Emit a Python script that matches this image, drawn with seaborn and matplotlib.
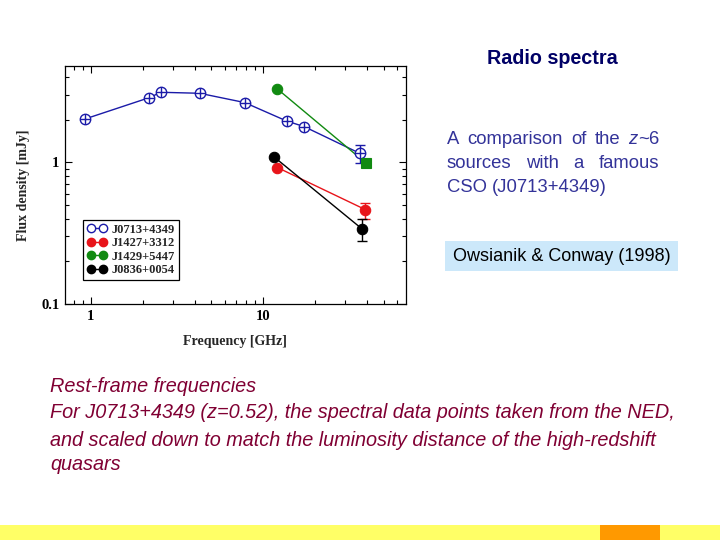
import matplotlib
matplotlib.use("Agg")
import matplotlib.pyplot as plt
import seaborn as sns
import pandas as pd
import numpy as np
from matplotlib.patches import Rectangle
from matplotlib.ticker import LogLocator, NullFormatter, FixedLocator, FixedFormatter

sns.set_theme(style="ticks")
plt.rcParams['font.family'] = ['DejaVu Sans']

# ---- data ----
names = ["J0713+4349", "J1427+3312", "J1429+5447", "J0836+0054"]
colors = ["#1a1aa8", "#e8141a", "#118a11", "#000000"]

freq_0713 = [0.93, 2.19, 2.55, 4.28, 7.8, 13.7, 17.3, 36.3]
flux_0713 = [2.03, 2.87, 3.13, 3.08, 2.65, 1.96, 1.79, 1.16]
err_lo_0713 = [0, 0, 0, 0, 0, 0, 0, 0.17]
err_hi_0713 = [0, 0, 0, 0, 0, 0, 0, 0.17]

freq_1427 = [12.1, 39.0]
flux_1427 = [0.92, 0.465]
err_lo_1427 = [0.0, 0.065]
err_hi_1427 = [0.0, 0.055]

freq_1429 = [12.1, 39.4]
flux_1429 = [3.30, 0.99]
err_lo_1429 = [0.0, 0.0]
err_hi_1429 = [0.0, 0.0]

freq_0836 = [11.5, 37.2]
flux_0836 = [1.10, 0.341]
err_lo_0836 = [0.0, 0.061]
err_hi_0836 = [0.0, 0.059]

freqs = [freq_0713, freq_1427, freq_1429, freq_0836]
fluxes = [flux_0713, flux_1427, flux_1429, flux_0836]
errs_lo = [err_lo_0713, err_lo_1427, err_lo_1429, err_lo_0836]
errs_hi = [err_hi_0713, err_hi_1427, err_hi_1429, err_hi_0836]
point_markers = [["o"] * 8, ["o", "o"], ["o", "s"], ["o", "o"]]

x_ticks = [1, 10]
x_ticklabels = ["1", "10"]
y_ticks = [0.1, 1]
y_ticklabels = ["0.1", "1"]

rows = []
for n, f, v in zip(names, freqs, fluxes):
    for a, b in zip(f, v):
        rows.append({"source": n, "freq": a, "flux": b})
df = pd.DataFrame(rows)

# ---- figure ----
fig = plt.figure(figsize=(7.2, 5.4), dpi=100)
fig.patch.set_facecolor("white")
ax = fig.add_axes([65 / 720, 1 - 304 / 540, 340.7 / 720, 238 / 540])

serif = ["Liberation Serif", "DejaVu Serif"]

for i, n in enumerate(names):
    sub = df[df.source == n]
    sns.lineplot(data=sub, x="freq", y="flux", color=colors[i], ax=ax,
                 lw=1.0, legend=False, estimator=None, sort=False)
    for a, b, lo, hi, m in zip(freqs[i], fluxes[i], errs_lo[i], errs_hi[i], point_markers[i]):
        if lo > 0 or hi > 0:
            ax.errorbar([a], [b], yerr=[[lo], [hi]], fmt="none", ecolor=colors[i],
                        elinewidth=1.0, capsize=3.5, capthick=1.0, zorder=3)
        if i == 0:
            ax.plot([a], [b], marker="o", ms=7.5, mfc="white", mec=colors[i], mew=1.0,
                    ls="none", zorder=4)
            ax.plot([a], [b], marker="+", ms=7.5, mec=colors[i], mew=1.0, ls="none", zorder=5)
        else:
            ax.plot([a], [b], marker=m, ms=7.5, mfc=colors[i], mec=colors[i], mew=0.8,
                    ls="none", zorder=4)

ax.set_xscale("log")
ax.set_yscale("log")
ax.set_xlim(0.71, 67)
ax.set_ylim(0.1, 4.8)

ax.xaxis.set_major_locator(FixedLocator(x_ticks))
ax.xaxis.set_major_formatter(FixedFormatter(x_ticklabels))
ax.yaxis.set_major_locator(FixedLocator(y_ticks))
ax.yaxis.set_major_formatter(FixedFormatter(y_ticklabels))
ax.xaxis.set_minor_locator(LogLocator(base=10, subs=np.arange(2, 10)))
ax.yaxis.set_minor_locator(LogLocator(base=10, subs=np.arange(2, 10)))
ax.xaxis.set_minor_formatter(NullFormatter())
ax.yaxis.set_minor_formatter(NullFormatter())
ax.tick_params(which="both", direction="in", top=True, right=True, width=0.8, colors="black")
ax.tick_params(which="major", length=5, labelsize=10.5, pad=4)
ax.tick_params(which="minor", length=3)
for lab in ax.get_xticklabels() + ax.get_yticklabels():
    lab.set_family(serif)
    lab.set_fontweight("bold")
for s in ax.spines.values():
    s.set_color("black")
    s.set_linewidth(0.9)

ax.set_xlabel("Frequency [GHz]", family=serif, fontweight="bold", fontsize=10, labelpad=9)
ax.set_ylabel("Flux density [mJy]", family=serif, fontweight="bold", fontsize=10, labelpad=8)

# legend
handles = []
for i, n in enumerate(names):
    if i == 0:
        h, = ax.plot([], [], color=colors[i], marker="o", ms=6, mfc="white", mec=colors[i], lw=1.0)
    else:
        h, = ax.plot([], [], color=colors[i], marker="o", ms=6, mfc=colors[i], mec=colors[i], lw=1.0)
    handles.append(h)
leg = ax.legend(handles, names, loc="lower left", bbox_to_anchor=(0.035, 0.075), numpoints=2,
                handlelength=1.6, handletextpad=0.4, borderpad=0.3, labelspacing=0.12,
                fancybox=False, edgecolor="black", framealpha=1,
                prop={"family": serif, "weight": "bold", "size": 9})
leg.get_frame().set_linewidth(0.9)

# slide texts
fig.text(552 / 720, 1 - 59 / 540, "Radio spectra", ha="center", va="center",
         fontsize=14.2, fontweight="bold", color="#000066", family="Liberation Sans")

body_fs = 13.3
body_col = "#333399"
lines = [[["A"], ["comparison"], ["of"], ["the"], ["z", "~6"]],
         [["sources"], ["with"], ["a"], ["famous"]],
         [["CSO"], ["(J0713+4349)"]]]
ys = [139, 163, 187]
fig.canvas.draw()
renderer = fig.canvas.get_renderer()
x0, x1 = 447, 659
for li, (words, y) in enumerate(zip(lines, ys)):
    word_texts = []
    widths = []
    for parts in words:
        pts = []
        w = 0
        for p in parts:
            t = fig.text(0, 0, p, fontsize=body_fs, color=body_col, family="Liberation Sans",
                         va="center", style="italic" if p == "z" else "normal")
            pw = t.get_window_extent(renderer).width
            pts.append((t, pw))
            w += pw
        word_texts.append(pts)
        widths.append(w)
    sp = fig.text(0, 0, "a a", fontsize=body_fs, family="Liberation Sans").get_window_extent(renderer).width \
        - 2 * fig.text(0, 0, "a", fontsize=body_fs, family="Liberation Sans").get_window_extent(renderer).width
    if li == len(lines) - 1:
        gap = sp
    else:
        gap = max(sp * 0.6, (x1 - x0 - sum(widths)) / (len(words) - 1))
    x = x0
    for pts, wd in zip(word_texts, widths):
        xx = x
        for t, pw in pts:
            t.set_position((xx / 720, 1 - y / 540))
            xx += pw
        x += wd + gap
for t in list(fig.texts):
    if t.get_text() in ("a a",) or (t.get_text() == "a" and t.get_position() == (0, 0)):
        t.remove()

fig.patches.append(Rectangle((445 / 720, 1 - 271 / 540), 233 / 720, 30 / 540,
                             transform=fig.transFigure, facecolor="#cce8fa", edgecolor="none", zorder=0))
fig.text(562 / 720, 1 - 257 / 540, "Owsianik & Conway (1998)", ha="center", va="center",
         fontsize=13, color="black", family="Liberation Sans")

btxt = ["Rest-frame frequencies",
        "For J0713+4349 (z=0.52), the spectral data points taken from the NED,",
        "and scaled down to match the luminosity distance of the high-redshift",
        "quasars"]
for t, y in zip(btxt, [387, 413, 440, 465]):
    fig.text(50 / 720, 1 - y / 540, t, ha="left", va="center", fontsize=14.3,
             style="italic", color="#800033", family="Liberation Sans")

fig.patches.append(Rectangle((0, 0), 1, 15 / 540, transform=fig.transFigure,
                             facecolor="#ffff66", edgecolor="none", zorder=0))
fig.patches.append(Rectangle((600 / 720, 0), 60 / 720, 15 / 540, transform=fig.transFigure,
                             facecolor="#ff9900", edgecolor="none", zorder=1))

fig.savefig("out.png", dpi=100, facecolor="white")
